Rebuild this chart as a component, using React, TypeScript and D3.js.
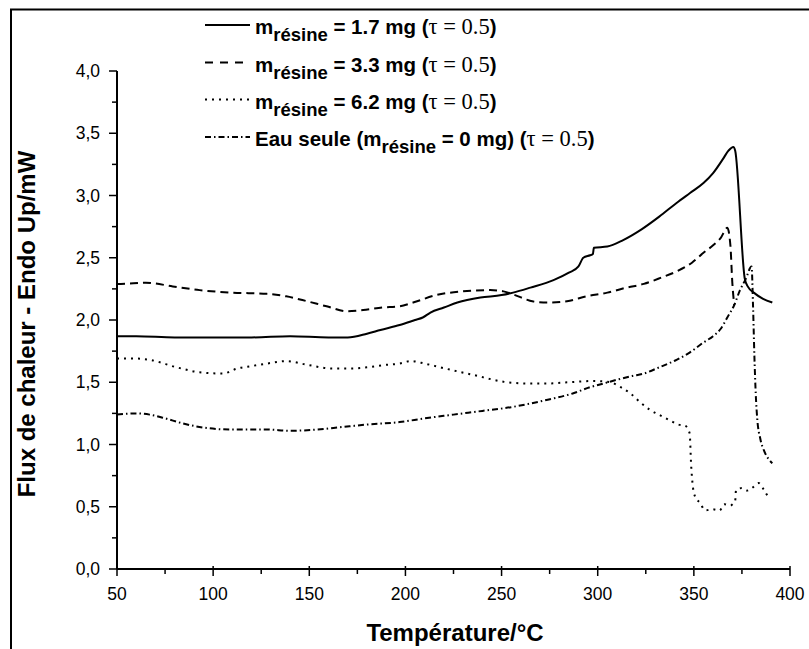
import React from "react";
import * as d3 from "d3";

const xTicks = [50, 100, 150, 200, 250, 300, 350, 400];
const xMinor = [75, 125, 175, 225, 275, 325, 375];
const yTicks = [0, 0.5, 1.0, 1.5, 2.0, 2.5, 3.0, 3.5, 4.0];
const yMinor = [0.25, 0.75, 1.25, 1.75, 2.25, 2.75, 3.25, 3.75];

// m résine = 1.7 mg
const tempA = [50, 60, 80, 100, 120, 140, 160, 170, 180, 187, 197, 205, 209, 213, 220, 227, 239, 250, 256, 265, 277, 285, 290, 292.5, 296, 297.5, 298, 305, 313, 323, 332, 341, 348, 355, 360, 365, 368, 370.5, 371.5, 376.5, 378, 382, 386, 390.8];
const fluxA = [1.87, 1.87, 1.86, 1.86, 1.86, 1.87, 1.86, 1.86, 1.89, 1.92, 1.96, 2.0, 2.02, 2.06, 2.1, 2.14, 2.18, 2.2, 2.22, 2.26, 2.32, 2.38, 2.43, 2.5, 2.52, 2.53, 2.58, 2.59, 2.64, 2.73, 2.83, 2.94, 3.02, 3.1, 3.18, 3.29, 3.36, 3.39, 3.36, 2.33, 2.27, 2.21, 2.17, 2.14];

// m résine = 3.3 mg
const tempB = [50, 52, 65, 79, 93, 110, 128, 138, 149, 159, 170, 178, 188, 197, 204, 216, 230, 244, 251, 257, 262, 266, 274, 284, 294, 305, 315, 324, 333, 341, 349, 355, 360, 364, 367.4, 369, 370, 371];
const fluxB = [2.29, 2.29, 2.3, 2.27, 2.24, 2.22, 2.21, 2.19, 2.15, 2.11, 2.07, 2.08, 2.1, 2.11, 2.14, 2.2, 2.23, 2.24, 2.23, 2.2, 2.17, 2.15, 2.14, 2.15, 2.19, 2.22, 2.26, 2.29, 2.34, 2.39, 2.46, 2.54, 2.6, 2.66, 2.74, 2.6, 2.3, 2.12];

// m résine = 6.2 mg
const tempC = [50, 60, 67, 81, 93, 105, 112.5, 120, 128, 138, 149, 162, 172, 180, 190, 197, 202.5, 210, 218, 235, 253, 265, 274, 285, 298, 306.5, 312, 317, 322, 327, 333, 338, 342, 345.5, 347.8, 348.6, 349.5, 350.7, 353.3, 355.9, 359.4, 363.4, 365.8, 368.9, 371.5, 371.9, 375, 377.6, 380.2, 383.7, 386.3, 388.9];
const fluxC = [1.69, 1.69, 1.68, 1.62, 1.58, 1.57, 1.61, 1.63, 1.65, 1.67, 1.64, 1.61, 1.61, 1.62, 1.64, 1.65, 1.67, 1.65, 1.62, 1.56, 1.5, 1.49, 1.49, 1.5, 1.51, 1.5, 1.46, 1.41, 1.34, 1.28, 1.23, 1.19, 1.16, 1.15, 1.09, 0.83, 0.66, 0.58, 0.53, 0.47, 0.48, 0.47, 0.52, 0.51, 0.55, 0.63, 0.65, 0.63, 0.65, 0.69, 0.64, 0.57];

// Eau seule (m résine = 0 mg)
const tempD = [50, 60, 67, 75, 84, 98, 110, 128, 140, 154, 167, 180, 197, 210, 225, 240, 255, 274, 287, 296, 303, 310, 318, 324, 332, 341, 348, 355, 360, 364, 367.4, 371, 374, 377, 380, 380.8, 381.5, 382.2, 383, 384.5, 386.5, 389, 390.8];
const fluxD = [1.24, 1.25, 1.24, 1.21, 1.17, 1.13, 1.12, 1.12, 1.11, 1.12, 1.14, 1.16, 1.18, 1.21, 1.24, 1.27, 1.3, 1.36, 1.41, 1.46, 1.49, 1.52, 1.55, 1.57, 1.62, 1.68, 1.74, 1.82, 1.87, 1.93, 2.02, 2.12, 2.24, 2.33, 2.43, 2.1, 1.7, 1.4, 1.2, 1.05, 0.95, 0.88, 0.85];

const seriesDash = ["", "8,5", "2,5", "6,3,1.5,3"];
const legendDash = ["", "8,7", "2,5", "6,3,1.5,3"];
const legendPrefix = ["", "", "", "Eau seule ("];
const legendMass = [" = 1.7 mg ", " = 3.3 mg ", " = 6.2 mg ", " = 0 mg) "];

export default function App() {
  const x = d3.scaleLinear().domain([50, 400]).range([117, 790]);
  const y = d3.scaleLinear().domain([0, 4]).range([569, 71]);
  const line = d3
    .line<[number, number]>()
    .x((d) => x(d[0]))
    .y((d) => y(d[1]))
    .curve(d3.curveMonotoneX);

  const series = [
    d3.zip(tempA, fluxA) as [number, number][],
    d3.zip(tempB, fluxB) as [number, number][],
    d3.zip(tempC, fluxC) as [number, number][],
    d3.zip(tempD, fluxD) as [number, number][],
  ];

  const sans = "'Liberation Sans', Arial, sans-serif";
  const serif = "'Liberation Serif', 'Times New Roman', serif";
  const fmt = (v: number) => v.toFixed(1).replace(".", ",");
  const legendY = [34, 71.5, 108.5, 146];

  return (
    <svg
      width={809}
      height={649}
      style={{ position: "absolute", left: 0, top: 0, background: "#fff" }}
    >
      <rect x={0} y={0} width={809} height={649} fill="#fff" />
      {/* frame */}
      <line x1={10} y1={9.5} x2={809} y2={9.5} stroke="#000" strokeWidth={2} />
      <line x1={11} y1={9} x2={11} y2={649} stroke="#000" strokeWidth={2} />

      {/* axes */}
      <line x1={x(50)} y1={y(0)} x2={x(400)} y2={y(0)} stroke="#000" strokeWidth={2} />
      <line x1={x(50)} y1={y(0)} x2={x(50)} y2={y(4)} stroke="#000" strokeWidth={2} />
      {xTicks.map((t) => (
        <g key={"xt" + t}>
          <line x1={x(t)} x2={x(t)} y1={y(0) - 3} y2={y(0) + 7} stroke="#000" strokeWidth={1.5} />
          <text x={x(t)} y={600} textAnchor="middle" fontFamily={sans} fontSize={17.5} fill="#000">
            {t}
          </text>
        </g>
      ))}
      {xMinor.map((t) => (
        <line key={"xm" + t} x1={x(t)} x2={x(t)} y1={y(0)} y2={y(0) + 5} stroke="#000" strokeWidth={1.5} />
      ))}
      {yTicks.map((t) => (
        <g key={"yt" + t}>
          <line x1={x(50) - 8} x2={x(50)} y1={y(t)} y2={y(t)} stroke="#000" strokeWidth={1.5} />
          <text x={100} y={y(t) + 6} textAnchor="end" fontFamily={sans} fontSize={17.5} fill="#000">
            {fmt(t)}
          </text>
        </g>
      ))}
      {yMinor.map((t) => (
        <line key={"ym" + t} x1={x(50) - 5} x2={x(50)} y1={y(t)} y2={y(t)} stroke="#000" strokeWidth={1.5} />
      ))}

      {/* axis titles */}
      <text
        transform={`translate(35,324) rotate(-90)`}
        textAnchor="middle"
        fontFamily={sans}
        fontWeight="bold"
        fontSize={24}
        fill="#000"
      >
        Flux de chaleur - Endo Up/mW
      </text>
      <text x={455} y={641} textAnchor="middle" fontFamily={sans} fontWeight="bold" fontSize={24} fill="#000">
        Température/°C
      </text>

      {/* curves */}
      {series.map((s, i) => (
        <path
          key={"s" + i}
          d={line(s) || ""}
          fill="none"
          stroke="#000"
          strokeWidth={2}
          strokeDasharray={seriesDash[i] || undefined}
          strokeLinejoin="round"
        />
      ))}

      {/* legend */}
      {legendY.map((ly, i) => (
        <g key={"lg" + i}>
          <line
            x1={205}
            x2={250}
            y1={ly - 9}
            y2={ly - 9}
            stroke="#000"
            strokeWidth={2}
            strokeDasharray={legendDash[i] || undefined}
          />
          <text x={255} y={ly} fontFamily={sans} fontWeight="bold" fontSize={20.5} fill="#000">
            {legendPrefix[i] ? <tspan>{legendPrefix[i]}</tspan> : null}
            <tspan>m</tspan>
            <tspan fontSize={18.5} dy={7}>
              résine
            </tspan>
            <tspan dy={-7}>{legendMass[i]}</tspan>
            <tspan>(</tspan>
            <tspan fontFamily={serif} fontWeight="normal" fontSize={22.5}>
              τ = 0.5
            </tspan>
            <tspan>)</tspan>
          </text>
        </g>
      ))}
    </svg>
  );
}
